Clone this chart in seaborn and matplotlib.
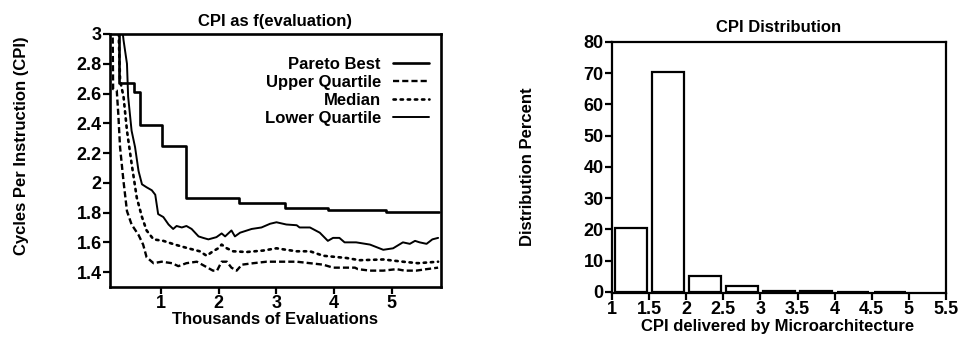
import numpy as np
import pandas as pd
import matplotlib
matplotlib.use("Agg")
import matplotlib.pyplot as plt
import seaborn as sns

# ---------------- data ----------------
pareto_x = [0.116, 0.27, 0.53, 0.64, 1.02, 1.44, 2.35, 3.15, 3.90, 4.90, 5.82]
pareto_y = [3.20, 2.67, 2.61, 2.39, 2.25, 1.90, 1.867, 1.83, 1.815, 1.805, 1.805]

lq_x = [0.31, 0.35, 0.41, 0.43, 0.49, 0.55, 0.61, 0.67, 0.75, 0.84, 0.90, 0.95, 1.04,
        1.13, 1.21, 1.27, 1.36, 1.44, 1.53, 1.65, 1.73, 1.82, 1.96, 2.05, 2.11, 2.22,
        2.28, 2.37, 2.57, 2.74, 2.89, 3.00, 3.17, 3.35, 3.40, 3.58, 3.75, 3.89, 3.98,
        4.09, 4.18, 4.38, 4.62, 4.85, 5.02, 5.19, 5.31, 5.40, 5.48, 5.60, 5.70, 5.80]
lq_y = [3.10, 2.96, 2.80, 2.58, 2.35, 2.24, 2.08, 1.99, 1.97, 1.95, 1.92, 1.79, 1.77,
        1.72, 1.69, 1.71, 1.70, 1.71, 1.69, 1.64, 1.63, 1.62, 1.635, 1.66, 1.64, 1.68,
        1.64, 1.665, 1.69, 1.70, 1.725, 1.735, 1.72, 1.715, 1.70, 1.70, 1.665, 1.61, 1.63,
        1.63, 1.60, 1.60, 1.585, 1.55, 1.56, 1.60, 1.59, 1.61, 1.60, 1.59, 1.62, 1.63]

med_x = [0.26, 0.29, 0.35, 0.41, 0.49, 0.58, 0.67, 0.75, 0.87, 1.04, 1.24, 1.47, 1.67,
         1.79, 1.90, 1.99, 2.05, 2.14, 2.25, 2.48, 2.77, 3.00, 3.17, 3.35, 3.58, 3.81,
         4.21, 4.44, 4.85, 5.19, 5.45, 5.80]
med_y = [3.10, 2.69, 2.58, 2.35, 2.13, 1.90, 1.77, 1.68, 1.62, 1.61, 1.585, 1.56, 1.54,
         1.51, 1.54, 1.56, 1.585, 1.56, 1.54, 1.535, 1.545, 1.56, 1.55, 1.54, 1.54, 1.51,
         1.495, 1.48, 1.485, 1.47, 1.46, 1.47]

uq_x = [0.16, 0.17, 0.233, 0.26, 0.29, 0.35, 0.41, 0.49, 0.61, 0.69, 0.75, 0.87, 1.01,
        1.19, 1.30, 1.44, 1.62, 1.76, 1.90, 1.97, 2.05, 2.14, 2.22, 2.31, 2.40, 2.60,
        2.83, 3.06, 3.35, 3.58, 3.81, 3.98, 4.15, 4.36, 4.41, 4.62, 4.85, 5.08, 5.22,
        5.42, 5.60, 5.80]
uq_y = [3.10, 2.63, 2.62, 2.46, 2.24, 2.01, 1.81, 1.72, 1.65, 1.585, 1.50, 1.46, 1.47,
        1.46, 1.44, 1.46, 1.47, 1.44, 1.41, 1.41, 1.47, 1.47, 1.43, 1.41, 1.45, 1.46,
        1.47, 1.47, 1.47, 1.46, 1.45, 1.43, 1.43, 1.43, 1.42, 1.41, 1.41, 1.42, 1.41,
        1.41, 1.42, 1.43]

cpi_bin_centers = [1.25, 1.75, 2.25, 2.75, 3.25, 3.75, 4.25, 4.75]
cpi_percent = [20.5, 70.5, 5.0, 1.7, 0.3, 0.15, 0.05, 0.02]

left_yticks = [1.4, 1.6, 1.8, 2.0, 2.2, 2.4, 2.6, 2.8, 3.0]
left_yticklabels = ["1.4", "1.6", "1.8", "2", "2.2", "2.4", "2.6", "2.8", "3"]
left_xticks = [1, 2, 3, 4, 5]
right_xticks = [1, 1.5, 2, 2.5, 3, 3.5, 4, 4.5, 5, 5.5]
right_xticklabels = ["1", "1.5", "2", "2.5", "3", "3.5", "4", "4.5", "5", "5.5"]
right_yticks = [0, 10, 20, 30, 40, 50, 60, 70, 80]

# ---------------- style ----------------
sns.set_theme(style="white")
plt.rcParams["font.family"] = ["Liberation Sans", "DejaVu Sans"]
plt.rcParams["text.color"] = "black"
plt.rcParams["axes.labelcolor"] = "black"
plt.rcParams["xtick.color"] = "black"
plt.rcParams["ytick.color"] = "black"

W, H = 959, 339
fig = plt.figure(figsize=(W / 100, H / 100), dpi=100)

def frac_axes(l, t, r, b):
    return fig.add_axes([l / W, 1 - b / H, (r - l) / W, (b - t) / H])

ax1 = frac_axes(110, 34, 441, 287)
ax2 = frac_axes(612, 42, 946, 293)

FS = 12
TFS = 12
WT = "bold"

# ---------------- left chart ----------------
sns.lineplot(x=pareto_x, y=pareto_y, ax=ax1, color="black", lw=1.9,
             drawstyle="steps-post", estimator=None, label="Pareto Best")
sns.lineplot(x=uq_x, y=uq_y, ax=ax1, color="black", lw=1.7,
             estimator=None, label="Upper Quartile")
sns.lineplot(x=med_x, y=med_y, ax=ax1, color="black", lw=1.9,
             estimator=None, label="Median")
sns.lineplot(x=lq_x, y=lq_y, ax=ax1, color="black", lw=1.4,
             estimator=None, label="Lower Quartile")
lines = ax1.get_lines()
lines[1].set_dashes([2.6, 1.3])
lines[2].set_dashes([0.9, 1.8])
lines[2].set_dash_capstyle("round")

ax1.set_xlim(0.116, 5.85)
ax1.set_ylim(1.30, 3.0)
ax1.set_yticks(left_yticks)
ax1.set_yticklabels(left_yticklabels)
ax1.set_xticks(left_xticks)
ax1.set_title("CPI as f(evaluation)", fontsize=TFS, fontweight=WT, pad=6)
ax1.set_xlabel("Thousands of Evaluations", fontsize=FS, fontweight=WT)
ax1.set_ylabel("Cycles Per Instruction (CPI)", fontsize=FS, fontweight=WT)
ax1.xaxis.set_label_coords(0.50, -0.10)
ax1.yaxis.set_label_coords(-0.245, 0.56)

leg = ax1.legend(loc="upper right", bbox_to_anchor=(1.0, 0.955), frameon=False,
                 markerfirst=False, handlelength=2.2,
                 labelspacing=0.17, handletextpad=0.7, borderaxespad=0.3,
                 prop={"size": FS, "weight": WT})

# ---------------- right chart ----------------
dist_df = pd.DataFrame({"cpi": cpi_bin_centers, "pct": cpi_percent})
sns.histplot(data=dist_df, x="cpi", weights="pct", binwidth=0.5, binrange=(1.0, 5.0),
             shrink=0.86, ax=ax2, color="white", edgecolor="black", linewidth=1.6,
             alpha=1.0)
ax2.set_xlim(1.0, 5.5)
ax2.set_ylim(-0.4, 80)
ax2.set_xticks(right_xticks)
ax2.set_xticklabels(right_xticklabels)
ax2.set_yticks(right_yticks)
ax2.set_title("CPI Distribution", fontsize=TFS, fontweight=WT, pad=7)
ax2.set_xlabel("CPI delivered by Microarchitecture", fontsize=FS, fontweight=WT)
ax2.set_ylabel("Distribution Percent", fontsize=FS, fontweight=WT)
ax2.xaxis.set_label_coords(0.495, -0.105)
ax2.yaxis.set_label_coords(-0.23, 0.505)

for ax, lw in ((ax1, 1.9), (ax2, 1.6)):
    for s in ax.spines.values():
        s.set_visible(True)
        s.set_color("black")
        s.set_linewidth(lw)
    ax.tick_params(axis="both", which="major", direction="out", length=5, width=1.6,
                   labelsize=13, pad=1, bottom=True, left=True, top=False, right=False)
    for t in ax.get_xticklabels() + ax.get_yticklabels():
        t.set_fontweight("bold")
    ax.grid(False)
    ax.set_facecolor("white")

fig.savefig("out.png", dpi=100, facecolor="white")
